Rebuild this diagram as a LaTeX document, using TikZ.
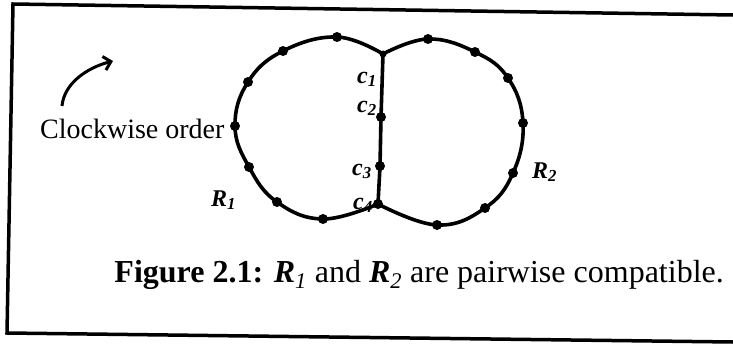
\documentclass[tikz,border=0pt]{standalone}
\usepackage{fontspec}
\setmainfont{Liberation Serif}
\usetikzlibrary{arrows.meta, positioning, calc}

\begin{document}
\begin{tikzpicture}[
        x=1pt, y=-1pt,
        curve/.style={line width=3.6pt, line join=round, line cap=round},
        pt/.style={circle, fill=black, inner sep=0pt, minimum size=10pt},
        lbl/.style={font=\fontsize{24}{26}\selectfont\itshape\bfseries, inner sep=0pt, anchor=base west},
        every node/.style={text=black}
    ]
    \useasboundingbox (0,0) rectangle (733,343);
    \draw[line width=3.5pt] (733,15) -- (13,4) -- (7,333) -- (733,342);

    \coordinate (jtop) at (383,54);
    \coordinate (jbot) at (378,204);

    \node[pt] (l1) at (337,37) {};
    \node[pt] (l2) at (283,51) {};
    \node[pt] (l3) at (248,82) {};
    \node[pt] (l4) at (235,126) {};
    \node[pt] (l5) at (249,167) {};
    \node[pt] (l6) at (277,202) {};
    \node[pt] (l7) at (323,219) {};

    \node[pt] (r1) at (428,39) {};
    \node[pt] (r2) at (475,52) {};
    \node[pt] (r3) at (508,78) {};
    \node[pt] (r4) at (523,123) {};
    \node[pt] (r5) at (513,173) {};
    \node[pt] (r6) at (485,208) {};
    \node[pt] (r7) at (437,225) {};

    \node[pt, minimum size=7pt] (c1) at (jtop) {};
    \node[pt] (c2) at (381,117) {};
    \node[pt] (c3) at (380,166) {};
    \node[pt] (c4) at (jbot) {};

    \draw[curve] plot[smooth, tension=0.7] coordinates {(jtop) (l1.center) (l2.center) (l3.center) (l4.center) (l5.center) (l6.center) (l7.center) (jbot)};
    \draw[curve] plot[smooth, tension=0.7] coordinates {(jtop) (r1.center) (r2.center) (r3.center) (r4.center) (r5.center) (r6.center) (r7.center) (jbot)};
    \draw[curve] (c1.center) -- (c2.center) -- (c3.center) -- (c4.center);

    \node[lbl] (c1l) at (357,83) {c\textsubscript{1}};
    \node[lbl] (c2l) at (357,112) {c\textsubscript{2}};
    \node[lbl] (c3l) at (352,175) {c\textsubscript{3}};
    \node[lbl] (c4l) at (353,209) {c\textsubscript{4}};
    \node[lbl] (R1) at (211,206) {R\textsubscript{1}};
    \node[lbl] (R2) at (532,178) {R\textsubscript{2}};

    \node[anchor=base west, inner sep=0pt, font=\fontsize{28}{30}\selectfont] (cw) at (40,138) {Clockwise order};
    \coordinate (cwfrom) at (62,106);
    \coordinate (cwto) at (113,61);
    \draw[line width=3pt, -{Straight Barb[length=7pt, width=14pt]}] (cwfrom) .. controls (64,84) and (86,68) .. (cwto);

    \node[anchor=base east, inner sep=0pt, font=\fontsize{32}{34}\selectfont] (cap) at (724,282)
        {\textbf{Figure 2.1:} \textbf{\textit{R}}\textsubscript{\textit{1}} and \textbf{\textit{R}}\textsubscript{\textit{2}} are pairwise compatible.};
\end{tikzpicture}
\end{document}
